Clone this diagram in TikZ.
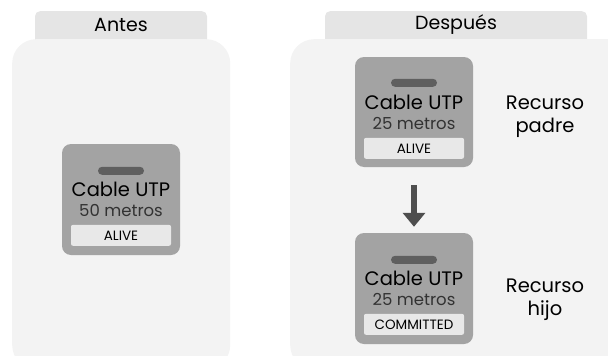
\documentclass[tikz,border=0pt]{standalone}
\usepackage{fontspec}
\setmainfont{Poppins}
\usetikzlibrary{positioning,arrows.meta}
\definecolor{cPanel}{RGB}{243,243,243}
\definecolor{cTab}{RGB}{229,229,229}
\definecolor{cCard}{RGB}{163,163,163}
\definecolor{cPill}{RGB}{95,95,95}
\definecolor{cState}{RGB}{232,232,232}
\definecolor{cSub}{RGB}{50,50,50}
\definecolor{cArr}{RGB}{78,78,78}
\tikzset{
  panel/.style={rectangle, rounded corners=24pt, fill=cPanel, draw=none},
  tab/.style={rectangle, rounded corners=5pt, fill=cTab, draw=none,
    font=\fontsize{19}{22}\selectfont, text=black},
  card/.style={rectangle, rounded corners=9pt, fill=cCard, draw=none,
    minimum width=118pt, minimum height=111pt},
  pill/.style={rectangle, rounded corners=4pt, fill=cPill, draw=none,
    minimum width=46pt, minimum height=8pt, inner sep=0pt},
  ctitle/.style={font=\fontsize{19.5}{22}\selectfont, text=black, inner sep=0pt},
  csub/.style={font=\fontsize{16.5}{19}\selectfont, text=cSub, inner sep=0pt},
  state/.style={rectangle, rounded corners=2pt, fill=cState, draw=none,
    minimum width=100pt, minimum height=21pt, inner sep=0pt,
    font=\fontsize{13.5}{15}\selectfont, text=black},
  side/.style={align=center, font=\fontsize{19.5}{23}\selectfont, text=black},
  arr/.style={-{Triangle[length=14pt, width=22pt]}, line width=6pt, draw=cArr},
}
\begin{document}
\begin{tikzpicture}[x=1pt, y=-1pt]
\useasboundingbox (0,0) rectangle (608,356);
\clip (0,0) rectangle (608,356);

% ===== tabs behind the panels =====
\node[tab, minimum width=172pt, minimum height=40pt, anchor=north] (tabL) at (121,11) {};
\node[tab, minimum width=262pt, minimum height=40pt, anchor=north] (tabR) at (456,11) {};

% ===== panels =====
\node[panel, minimum width=218pt, minimum height=330pt, anchor=north west]
  (antes) at (12,39) {};
\node[panel, minimum width=345pt, minimum height=330pt, anchor=north west]
  (despues) at (290,39) {};

% tab labels
\node[tab, fill=none] (tabLtxt) at (121,25) {Antes};
\node[tab, fill=none] (tabRtxt) at (456,25) {Después};

% ===== before: one cable =====
\node[card] (c0) at (121,199.5) {};
\node[pill] (p0) at ([yshift=-27pt]c0.north) {};
\node[ctitle] (t0) at ([yshift=-46pt]c0.north) {Cable UTP};
\node[csub] (m0) at ([yshift=-67pt]c0.north) {50 metros};
\node[state] (s0) at ([yshift=-91.5pt]c0.north) {ALIVE};

% ===== after: parent =====
\node[card, minimum height=110pt] (c1) at (414,112) {};
\node[pill] (p1) at ([yshift=-26pt]c1.north) {};
\node[ctitle] (t1) at ([yshift=-46pt]c1.north) {Cable UTP};
\node[csub] (m1) at ([yshift=-67pt]c1.north) {25 metros};
\node[state] (s1) at ([yshift=-91.5pt]c1.north) {ALIVE};
\node[side] (r1) at (545,117) {Recurso\\padre};

% ===== after: child =====
\node[card] (c2) at (414,288.5) {};
\node[pill] (p2) at ([yshift=-27pt]c2.north) {};
\node[ctitle] (t2) at ([yshift=-46pt]c2.north) {Cable UTP};
\node[csub] (m2) at ([yshift=-67pt]c2.north) {25 metros};
\node[state] (s2) at ([yshift=-91.5pt]c2.north) {COMMITTED};
\node[side] (r2) at (545,300) {Recurso\\hijo};

% parent -> child
\draw[arr, shorten <=18pt, shorten >=6pt] (c1.south) -- (c2.north);

\end{tikzpicture}
\end{document}
